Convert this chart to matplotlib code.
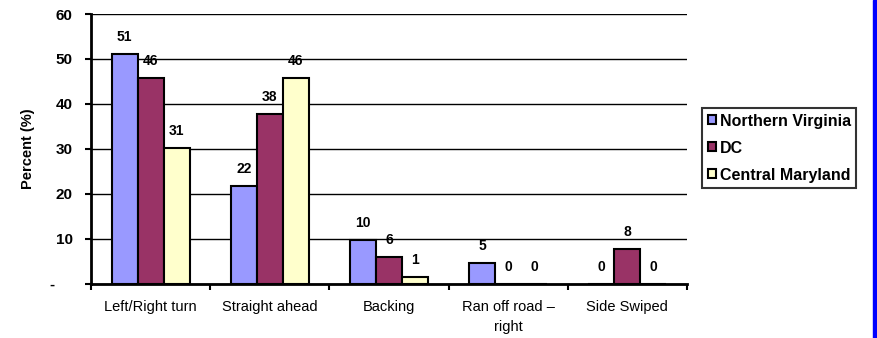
import numpy as np
import matplotlib
matplotlib.use("Agg")
import matplotlib.pyplot as plt
from matplotlib.patches import Rectangle

plt.rcParams['font.family'] = ['Liberation Sans', 'DejaVu Sans']

categories = ["Left/Right turn", "Straight ahead", "Backing", "Ran off road \u2013\nright", "Side Swiped"]
series = ["Northern Virginia", "DC", "Central Maryland"]
nova = [51.1, 21.7, 9.7, 4.7, 0]
dc = [45.7, 37.8, 6.0, 0, 7.8]
cmd = [30.3, 45.7, 1.4, 0, 0]
nova_labels = ["51", "22", "10", "5", "0"]
dc_labels = ["46", "38", "6", "0", "8"]
cmd_labels = ["31", "46", "1", "0", "0"]
colors = ["#9999FF", "#993366", "#FFFFCC"]
yticks = [0, 10, 20, 30, 40, 50, 60]
ytick_labels = ["-    ", "10", "20", "30", "40", "50", "60"]

fig = plt.figure(figsize=(8.77, 3.38), dpi=100)
ax = fig.add_axes([91/877, 1 - 283.7/338, (687 - 91)/877, (283.7 - 14)/338])

x = np.arange(len(categories))
w = 0.218
for i, (vals, labs) in enumerate([(nova, nova_labels), (dc, dc_labels), (cmd, cmd_labels)]):
    pos = x + (i - 1) * w
    ax.bar(pos, vals, w, color=colors[i], edgecolor='black', linewidth=1.5,
           label=series[i], zorder=3)
    for p, v, l in zip(pos, vals, labs):
        ax.annotate(l, (p, v), xytext=(0, 12.2), textcoords='offset points',
                    ha='center', va='center', fontsize=10, fontweight='bold')

ax.set_xlim(-0.5, len(categories) - 0.5)
ax.set_ylim(0, 60)
ax.set_yticks(yticks)
ax.set_yticklabels(ytick_labels, fontsize=11, fontweight='bold')
ax.yaxis.grid(True, color='black', linewidth=1.0, zorder=0)
ax.set_axisbelow(True)

ax.set_xticks(np.arange(len(categories) + 1) - 0.5)
ax.set_xticklabels([])
ax.set_xticks(x, minor=True)
ax.set_xticklabels(categories, minor=True, fontsize=10.5, linespacing=1.5)
ax.tick_params(axis='x', which='minor', length=0, pad=12)
ax.tick_params(axis='x', which='major', direction='out', length=4, width=1.5)
ax.tick_params(axis='y', direction='out', length=4.3, width=1.5, pad=9)

for s in ['top', 'right']:
    ax.spines[s].set_visible(False)
for s in ['left', 'bottom']:
    ax.spines[s].set_linewidth(2)

ax.set_ylabel("Percent (%)", fontsize=10.5, fontweight='bold')
ax.yaxis.set_label_coords(-56/596, 0.5)

leg = fig.legend(loc='upper left', bbox_to_anchor=(702/877, 1 - 108/338),
                 frameon=True, fancybox=False, edgecolor='black',
                 prop={'weight': 'bold', 'size': 11.5},
                 handlelength=0.5, handleheight=0.5, handletextpad=0.25,
                 borderpad=0.35, labelspacing=0.75, borderaxespad=0)
leg.get_frame().set_linewidth(1.5)

fig.patches.append(Rectangle((873/877, 0), 4/877, 1, transform=fig.transFigure,
                             color='#0000FF', zorder=5))

fig.savefig("out.png", dpi=100)
